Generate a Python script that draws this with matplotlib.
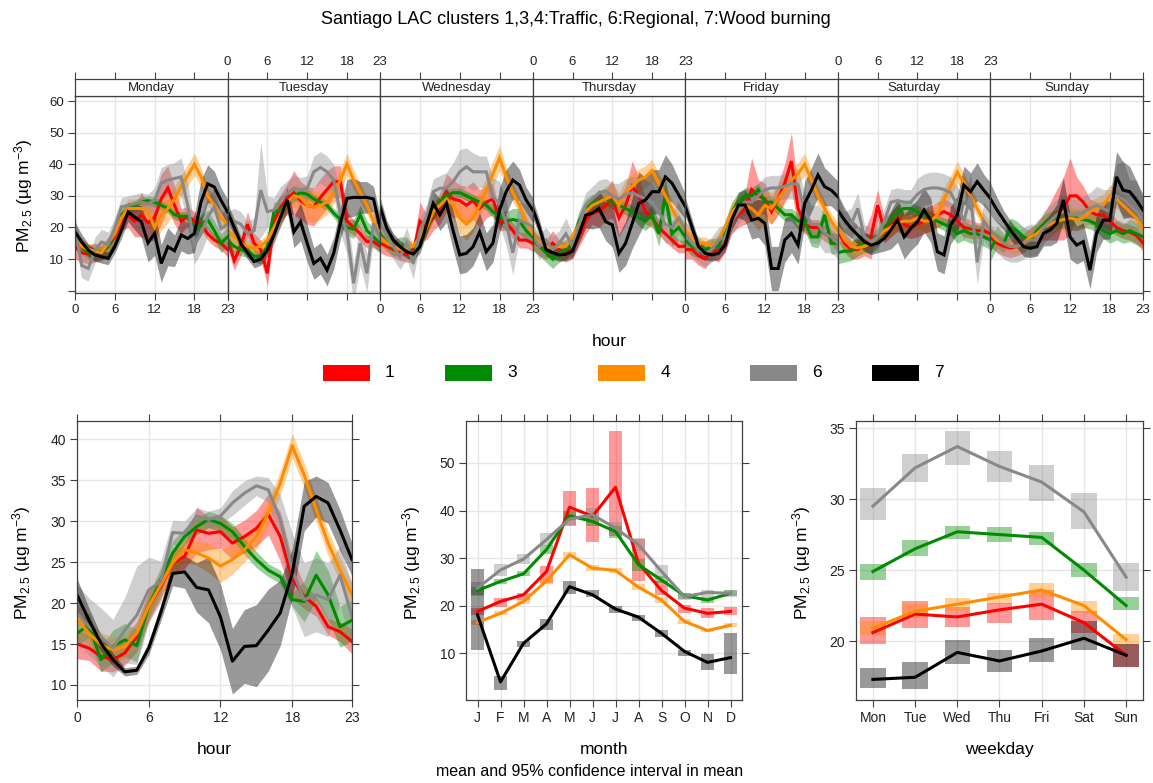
import numpy as np
import matplotlib.pyplot as plt
from matplotlib.patches import Rectangle

plt.rcParams['font.family'] = ['Liberation Sans', 'DejaVu Sans']
plt.rcParams['mathtext.fontset'] = 'custom'
plt.rcParams['mathtext.rm'] = 'Liberation Sans'
plt.rcParams['mathtext.it'] = 'Liberation Sans:italic'

clusters = ['1', '3', '4', '6', '7']
colours = ['#FF0000', '#008B00', '#FF8C00', '#888888', '#000000']
days = ['Monday', 'Tuesday', 'Wednesday', 'Thursday', 'Friday', 'Saturday', 'Sunday']
month_labels = ['J', 'F', 'M', 'A', 'M', 'J', 'J', 'A', 'S', 'O', 'N', 'D']
wday_labels = ['Mon', 'Tue', 'Wed', 'Thu', 'Fri', 'Sat', 'Sun']

# ---- day x hour means (one row of 24 hours per weekday) ----
week_c1 = [
    [14, 12, 11.5, 12, 12, 14, 17, 22, 24, 22, 24, 21.5, 23, 29, 32.5, 27, 22, 23.5, 22, 21, 18, 16, 15, 13],
    [16.5, 9.5, 14, 21, 15, 13, 5.5, 22, 26.5, 29, 31, 28.5, 27, 26.5, 29.5, 32, 34.5, 34.5, 22, 20, 18, 15.5, 15.5, 14],
    [15, 14, 13, 12, 11.5, 12, 22, 20, 23, 26, 31, 29, 28.5, 27, 28.5, 26, 28, 29, 22, 21.5, 19, 16, 16, 15],
    [16, 14, 13, 15, 13, 12, 13, 17, 22, 25, 25, 27, 29, 23, 27, 33, 30, 25, 23, 20, 18, 16, 14, 14],
    [13, 13, 11, 10, 13, 12, 15, 22, 24, 26, 32, 30, 29, 25, 29, 34, 41, 26, 21, 20, 20, 18, 17, 15],
    [19, 15, 13, 13, 15, 17, 27, 19, 21, 23, 21, 20, 21, 22, 23, 24, 25, 24, 22, 20, 19.5, 19, 19, 18],
    [17, 15, 14, 13.5, 14, 15, 17, 18, 20, 22, 24, 26, 30, 30, 28, 25, 24, 24, 22, 20, 19, 18.5, 17.5, 15],
]
week_c3 = [
    [16, 14, 12, 11.5, 12, 14, 18, 24, 25.5, 27, 28, 28.5, 28, 27, 26, 24, 23.5, 23.5, 19, 21, 22.5, 19, 15, 17],
    [16, 14, 13, 12.5, 11, 10.5, 14, 25, 25.5, 28, 30, 31, 30.5, 29, 28, 27, 24.5, 22.5, 20, 19.5, 24, 19, 17, 15],
    [18, 15, 13.5, 14, 14, 11, 17, 20, 24, 28, 30, 31, 31, 30, 29, 28, 27, 25, 23.5, 22, 22.5, 22, 19, 17],
    [16, 14, 12, 10, 12, 13, 15, 22, 26, 28, 28, 29, 28, 27, 26, 25, 23, 22, 24, 18, 30, 18, 20, 17],
    [16, 14, 13, 13, 14, 14, 19, 25, 28, 30, 30, 32, 28, 28, 26, 24, 24, 22, 22, 17, 17, 24, 15, 15],
    [12, 12.5, 12.5, 14, 15, 15, 17, 20, 22, 25, 26, 26, 25, 24, 23, 22, 21, 20, 18, 19, 18, 18, 17, 16],
    [13, 17, 15, 20, 19, 17, 16, 19, 21, 22.5, 23, 22, 23, 23, 22.5, 22, 21, 19, 18, 19, 18, 19, 18, 17],
]
week_c4 = [
    [17, 14, 13, 12.5, 12, 15, 18, 23, 26, 26, 26, 25, 20, 24, 26, 29, 33, 36.5, 40, 36, 30, 27, 23, 21],
    [19, 17, 15, 14, 13.5, 14, 16, 20, 24, 28, 30, 29.5, 27, 26.5, 27, 28, 31, 35, 40, 35, 31, 27, 22, 19],
    [17, 15, 14, 13, 13.5, 14, 17, 20, 25, 27, 29, 27, 23, 21, 23, 27, 32, 37, 42, 36, 31, 27, 22, 18],
    [17, 15, 14, 13.5, 14, 14, 17, 21, 25, 27, 28, 29, 30, 27, 31, 33, 35, 36, 38, 34, 30, 26, 22, 19],
    [19, 17, 15, 15, 14, 16, 20, 25, 27, 27, 26, 24, 27, 26, 29, 32, 35, 37, 40, 35, 30, 26, 22, 19],
    [20, 16, 14, 13.5, 14, 15, 17, 19, 20, 21.5, 22, 22, 23, 22, 22, 24, 29, 33, 37.5, 34, 30, 26, 22, 19],
    [18, 16, 15, 14, 14, 15, 17, 18, 20, 21, 22, 22.5, 23, 22.5, 23, 25, 26, 27, 30, 29, 27, 25, 23, 20],
]
week_c6 = [
    [20, 8, 7, 12.8, 15.4, 14.5, 20, 26.5, 27, 27.5, 28, 27.5, 28.6, 34, 35, 35.5, 36, 27, 14.4, 18, 23.3, 26.5, 19.6, 21],
    [21, 22, 21, 18, 19, 31.8, 25, 25.5, 29, 30.8, 32.4, 31.8, 32.4, 37.6, 39, 37.6, 35, 24.5, 18.6, 2.3, 15, 5.5, 21.3, 16.5],
    [22, 17, 14, 10.7, 15, 8.6, 19, 23.4, 31.3, 32.4, 32.4, 34.5, 37.6, 39.2, 37.6, 37.6, 37.6, 29.7, 27.6, 21.3, 12, 22.3, 21.3, 20.2],
    [17, 14, 16, 13, 15, 18, 14, 21, 27, 29, 31, 31.5, 30, 29, 30.5, 31, 30, 29, 28, 25, 21, 20, 23, 19],
    [18, 15, 13, 11.5, 13, 16, 17, 22, 25, 28, 28, 30, 32, 32.5, 32.5, 33, 34, 33.5, 25, 21, 21, 18, 17, 15],
    [24, 20, 21, 26, 17, 15.5, 17, 22, 28, 28.5, 28, 28, 30.5, 32, 32.5, 32.5, 32, 31, 27, 22, 30, 9, 22, 19],
    [19, 17, 15, 14, 14, 15, 16, 16, 20, 22, 24, 25, 24, 24, 25, 26, 27, 26, 25, 30, 29, 27, 25, 22],
]
week_c7 = [
    [18.6, 15.4, 12.8, 11.3, 10.7, 10.2, 13.9, 19.1, 24.9, 23.3, 21.8, 15.1, 18.1, 8.6, 13.9, 12.6, 17.6, 16.5, 18.1, 28.1, 33.8, 32.8, 28.6, 24.9],
    [25, 20, 15, 12, 9.2, 10, 12.8, 17.6, 23.4, 28.7, 18.6, 21.8, 15, 8.6, 10.2, 6.5, 11.8, 21.3, 29.2, 29.5, 29.5, 29.5, 29, 20],
    [26.6, 19.7, 16, 13.9, 12.3, 11.6, 13.9, 20.8, 27.6, 24, 27.6, 19, 11.3, 11.8, 13.9, 18.6, 12.3, 15, 25.5, 31.3, 35, 33.4, 28.7, 25.5],
    [26, 20, 13, 12, 11.3, 11.5, 12.5, 18, 23.9, 24.5, 26, 21.8, 20.8, 11.8, 15, 21.3, 27.6, 28.7, 31.3, 31.3, 36, 34, 30.3, 26.6],
    [26.6, 20.2, 13.9, 11.8, 11.3, 11.8, 14.4, 22.3, 27.1, 27.1, 22.3, 22.9, 21.3, 7, 7, 16, 18.1, 14.4, 27.6, 31.8, 36.6, 32.9, 31.8, 29.7],
    [25.5, 22.3, 19.7, 17.6, 15.5, 14.4, 15, 16.5, 19.2, 22.3, 17, 19.7, 21.8, 25.5, 22.3, 12.3, 11.3, 20.8, 23.9, 33.4, 31.3, 34.5, 31.8, 29.2],
    [29, 25.5, 22.3, 19.2, 16.5, 13.9, 13.4, 13.9, 18.1, 19.2, 21.3, 28.7, 17, 14.4, 15.5, 6.5, 18.1, 22.3, 22.3, 36, 31.8, 31.3, 28.7, 25.5],
]

# half-width of the 95% interval, same layout
week_ci_c1 = [
    [4, 3, 3, 3, 2.5, 3, 3, 3, 4, 5, 7, 6, 7, 8, 7, 6, 4, 3, 3, 2, 2, 2, 2, 2.5],
    [3, 3, 3, 4, 3, 3, 4, 4, 4, 5, 7, 6, 6, 6, 6, 6, 5, 5, 3, 2.5, 2.5, 2, 2, 2],
    [3, 3, 2.5, 2.5, 2.5, 3, 6, 4, 4, 5, 6, 6, 5, 6, 6, 6, 5, 5, 3, 2.5, 2.5, 2.5, 2.5, 2.5],
    [3, 3, 3, 4, 3, 3, 3, 3, 4, 4, 5, 5, 6, 6, 6, 8, 6, 4, 3, 2.5, 2.5, 2.5, 2, 2],
    [3, 3, 3, 3, 3, 3, 3, 4, 4, 5, 10, 5, 5, 4, 5, 6, 9, 6, 3, 2.5, 2.5, 2.5, 2.5, 2.5],
    [3, 3, 3, 3, 4, 7, 5, 4, 4, 4, 4, 3.5, 4, 4, 4, 4, 4, 4, 3, 3, 3, 2.5, 2.5, 2.5],
    [3, 3, 3, 3, 3, 3, 3, 3, 4, 6, 8, 10, 12, 6, 5, 4, 4, 4, 3, 2.5, 2.5, 2.5, 2.5, 2.5],
]
week_ci_c3 = [
    [3, 2.5, 2, 2, 2, 2.5, 2.5, 2, 2, 1.5, 1.5, 1.5, 1.5, 1.5, 1.5, 1.5, 1.5, 1.5, 2, 3, 3, 3, 3, 3],
    [3, 2.5, 2, 2, 2, 2, 2.5, 3, 2.5, 2, 2, 1.5, 1.5, 1.5, 1.5, 1.5, 1.5, 2, 2.5, 3, 3, 3, 3, 3],
    [3, 2.5, 2.5, 3, 3, 3, 3, 2.5, 2, 2, 2, 1.5, 1.5, 1.5, 1.5, 1.5, 1.5, 2, 2.5, 3, 3.5, 4, 3, 3],
    [3, 3, 3, 3, 3, 3, 3, 3, 3, 2.5, 2.5, 2, 2, 2, 2, 2, 2.5, 3, 3, 4, 6, 4, 4, 3.5],
    [3, 3, 2.5, 2.5, 2.5, 2.5, 3, 3, 3, 2.5, 2.5, 2, 2, 2, 2, 2, 2, 2.5, 3, 3, 3.5, 4, 3.5, 3],
    [3.5, 3.5, 3, 3, 3, 3, 3, 3, 2.5, 2.5, 2, 2, 2, 2, 2, 2, 2, 2.5, 3, 3, 3, 3, 3, 3],
    [3.5, 3.5, 3, 3, 3, 3, 3, 3, 3, 2.5, 2.5, 2.5, 2.5, 2.5, 2.5, 2.5, 2.5, 2.5, 3, 3, 3, 3.5, 3.5, 3.5],
]
week_ci_c4 = [
    [3, 2.5, 2, 2, 2, 2, 2, 2.5, 3, 3, 3.5, 4, 5, 5, 4.5, 4, 3.5, 3.5, 3.5, 3, 3, 2.5, 2.5, 2.5],
    [3, 2.5, 2, 2, 2, 2, 2, 2.5, 3, 3, 3.5, 4, 5, 5, 4.5, 4, 3.5, 3.5, 3.5, 3, 3, 2.5, 2.5, 2.5],
    [3, 2.5, 2, 2, 2, 2, 2, 2.5, 3, 3, 3.5, 4, 5, 5, 4.5, 4, 4, 4, 4, 3, 3, 2.5, 2.5, 2.5],
    [3, 2.5, 2, 2, 2, 2, 2, 2.5, 3, 3, 3.5, 4, 4, 4, 4, 4, 3.5, 3.5, 3.5, 3, 3, 2.5, 2.5, 2.5],
    [3, 2.5, 2, 2, 2, 2, 2, 2.5, 3, 3, 4, 5, 5, 5, 4.5, 4, 3.5, 3.5, 3.5, 3, 3, 2.5, 2.5, 2.5],
    [3, 2.5, 2, 2, 2, 2, 2, 2.5, 3, 3, 3.5, 3.5, 3.5, 3.5, 3.5, 3.5, 3.5, 3.5, 3.5, 3, 3, 2.5, 2.5, 2.5],
    [3, 2.5, 2, 2, 2, 2, 2, 2.5, 3, 3, 3.5, 3.5, 3.5, 3.5, 3.5, 3.5, 3.5, 3.5, 3.5, 3, 3, 2.5, 2.5, 2.5],
]
week_ci_c6 = [
    [4, 4, 4, 4, 4, 4, 3, 3, 3, 3, 3, 3, 4, 5, 5, 5, 6, 7, 6, 6, 6, 6, 5, 5],
    [4, 4, 4, 4, 4, 15, 5, 4, 4, 4, 4, 4, 4, 5, 5, 5, 5, 6, 7, 6, 7, 6, 5, 5],
    [4, 4, 4, 4, 5, 5, 4, 4, 4, 4, 5, 6, 7, 6, 6, 5, 5, 6, 7, 7, 7, 6, 6, 5],
    [4, 4, 4, 4, 4, 5, 4, 4, 4, 4, 4, 4, 4, 5, 5, 5, 6, 6, 6, 6, 6, 5, 5, 4],
    [4, 4, 4, 4, 4, 4, 4, 4, 4, 4, 4, 4, 4, 4, 4, 4, 5, 5, 6, 6, 6, 6, 5, 5],
    [6, 5, 5, 5, 4, 4, 4, 4, 4, 4, 4, 4, 5, 5, 5, 5, 5, 5, 6, 6, 7, 7, 6, 6],
    [5, 5, 5, 5, 5, 5, 5, 5, 5, 5, 5, 5, 5, 5, 5, 5, 6, 6, 7, 10, 12, 8, 10, 7],
]
week_ci_c7 = [
    [3, 2.5, 2, 2, 2, 2, 2, 2.5, 3, 4, 5, 6, 7, 6, 6, 5, 5, 5, 6, 7, 6, 5, 4, 4],
    [3, 2.5, 2, 2, 2, 2, 2, 2.5, 3, 4, 5, 6, 6, 5, 5, 5, 5, 5, 6, 6, 5, 5, 4, 4],
    [3, 2.5, 2, 2, 2, 2, 2, 3, 4, 5, 6, 6, 6, 6, 6, 6, 6, 6, 7, 7, 6, 5, 4, 4],
    [3, 2.5, 2, 2, 2, 2, 2, 3, 4, 5, 6, 6, 7, 6, 7, 8, 10, 7, 7, 7, 7, 6, 5, 4],
    [3, 2.5, 2, 2, 2, 2, 2, 3, 4, 5, 6, 6, 7, 7, 7, 7, 6, 6, 7, 7, 7, 6, 5, 5],
    [5, 4, 3, 3, 3, 3, 3, 4, 6, 7, 7, 7, 7, 7, 7, 6, 6, 6, 6, 6, 6, 6, 5, 5],
    [5, 4, 3, 3, 3, 3, 3, 3, 4, 5, 6, 7, 7, 6, 6, 6, 6, 6, 6, 8, 9, 8, 6, 5],
]

# ---- hour of day means and interval half-widths ----
hour_c1 = [15.0, 14.5, 13.5, 13.1, 13.9, 15.9, 19.6, 22.0, 24.9, 25.7, 28.9, 28.5, 28.7, 27.3, 28.1, 29.1, 30.8, 28.1, 23.0, 20.8, 19.6, 17.1, 16.5, 15.3]
hour_c3 = [16.3, 17.3, 13.1, 14.7, 15.5, 14.8, 19.6, 22.8, 26.1, 28.1, 29.3, 30.2, 29.7, 28.7, 26.9, 25.3, 24.0, 23.2, 20.4, 20.2, 23.4, 21.0, 17.1, 17.9]
hour_c4 = [18.1, 16.3, 14.9, 14.3, 14.7, 16.3, 19.6, 22.2, 24.9, 26.5, 26.1, 25.5, 24.5, 25.3, 26.5, 28.1, 31.0, 34.6, 39.2, 35.6, 31.4, 27.3, 24.0, 21.0]
hour_c6 = [18.8, 17.1, 15.9, 14.5, 16.7, 18.5, 21.6, 22.6, 28.6, 28.5, 30.6, 30.2, 30.6, 32.2, 33.4, 34.3, 33.8, 30.2, 24.0, 20.4, 21.0, 20.4, 23.4, 18.3]
hour_c7 = [21.0, 17.9, 15.1, 13.1, 11.6, 11.8, 14.5, 18.8, 23.6, 23.8, 21.9, 21.6, 18.3, 12.9, 14.7, 14.8, 16.7, 18.8, 23.6, 31.8, 33.0, 32.2, 28.9, 25.3]
hour_ci_c1 = [1.8, 1.5, 1.8, 1.5, 1.5, 1.8, 1.8, 1.5, 1.5, 1.5, 2.8, 2.0, 2.0, 2.0, 2.0, 2.2, 2.5, 3.0, 2.5, 1.5, 1.2, 1.0, 1.2, 1.5]
hour_ci_c3 = [1.5, 1.5, 1.5, 2.0, 2.0, 2.0, 1.5, 1.5, 1.5, 1.0, 1.0, 1.0, 1.0, 1.0, 1.0, 1.0, 0.8, 0.8, 0.8, 2.5, 3.0, 3.0, 2.5, 2.5]
hour_ci_c4 = [2.0, 1.5, 1.5, 1.5, 1.5, 1.5, 1.5, 1.5, 1.5, 1.5, 1.5, 1.8, 2.0, 1.8, 1.5, 1.5, 1.5, 1.5, 1.5, 1.5, 1.5, 1.5, 1.5, 1.5]
hour_ci_c6 = [3.5, 3.5, 3.5, 3.5, 4.0, 6.0, 4.0, 2.5, 1.5, 1.5, 1.0, 1.0, 1.0, 1.5, 1.5, 1.2, 1.5, 3.0, 4.5, 4.5, 4.5, 4.5, 3.5, 4.0]
hour_ci_c7 = [2.0, 1.5, 1.0, 0.8, 0.5, 0.5, 0.8, 1.0, 1.5, 2.0, 3.0, 4.0, 4.0, 4.0, 4.5, 5.0, 5.0, 4.0, 3.0, 3.0, 2.5, 2.5, 2.5, 2.0]

# ---- monthly means with lower / upper interval ----
month_c1 = [18.8, 20.9, 22.3, 27.2, 40.7, 38.8, 44.9, 28.9, 23.2, 19.5, 18.4, 18.8]
month_lo_c1 = [18.0, 19.8, 21.2, 24.7, 36.7, 33.3, 34.6, 25.2, 22.3, 18.4, 17.4, 18.1]
month_hi_c1 = [19.5, 21.6, 22.6, 28.4, 44.2, 44.7, 56.7, 34.0, 25.1, 20.2, 19.5, 19.8]
month_c3 = [23.2, 25.1, 26.7, 31.8, 38.9, 37.7, 35.6, 28.6, 25.4, 22.1, 21.2, 22.6]
month_lo_c3 = [22.3, 24.5, 26.2, 30.8, 38.0, 36.8, 34.3, 27.2, 24.7, 21.5, 20.6, 22.0]
month_hi_c3 = [24.0, 25.7, 27.3, 32.8, 39.8, 38.6, 36.8, 29.8, 26.2, 22.6, 21.8, 23.2]
month_c4 = [16.5, 18.4, 20.9, 25.2, 30.7, 27.9, 27.4, 23.9, 21.2, 16.7, 14.8, 15.9]
month_lo_c4 = [16.0, 18.0, 20.4, 24.6, 30.0, 27.2, 26.8, 23.3, 20.6, 16.2, 14.4, 15.5]
month_hi_c4 = [17.0, 18.8, 21.4, 25.8, 31.3, 28.6, 28.0, 24.5, 21.8, 17.2, 15.2, 16.3]
month_c6 = [23.7, 27.5, 29.8, 33.9, 38.2, 39.1, 36.3, 32.8, 27.2, 21.9, 22.8, 22.6]
month_lo_c6 = [22.0, 26.2, 28.7, 32.6, 37.0, 37.7, 35.2, 31.5, 25.8, 21.2, 21.9, 21.8]
month_hi_c6 = [25.0, 28.8, 30.9, 35.2, 39.5, 40.6, 37.5, 34.2, 28.5, 22.6, 23.3, 23.2]
month_c7 = [18.1, 4.0, 12.1, 16.2, 24.0, 22.3, 19.3, 17.6, 14.2, 10.4, 8.1, 9.1]
month_lo_c7 = [10.7, 2.4, 11.4, 14.8, 22.5, 21.8, 18.4, 16.7, 13.5, 9.4, 6.6, 5.6]
month_hi_c7 = [27.7, 5.2, 12.6, 17.2, 25.1, 23.3, 20.0, 18.1, 14.9, 10.8, 9.9, 14.2]

# ---- weekday means with lower / upper interval ----
wday_c1 = [20.6, 21.9, 21.7, 22.2, 22.6, 21.3, 19.0]
wday_lo_c1 = [19.8, 20.9, 21.0, 21.3, 21.5, 20.6, 18.2]
wday_hi_c1 = [21.7, 22.8, 22.4, 22.7, 23.6, 22.1, 19.8]
wday_c3 = [24.9, 26.5, 27.7, 27.5, 27.3, 25.0, 22.5]
wday_lo_c3 = [24.3, 26.0, 27.2, 27.0, 26.8, 24.5, 22.2]
wday_hi_c3 = [25.4, 27.1, 28.1, 28.0, 27.7, 25.5, 23.1]
wday_c4 = [20.9, 22.1, 22.6, 23.1, 23.6, 22.5, 20.1]
wday_lo_c4 = [20.4, 21.6, 22.1, 22.6, 23.1, 22.0, 19.7]
wday_hi_c4 = [21.4, 22.6, 23.0, 23.4, 24.1, 22.8, 20.5]
wday_c6 = [29.5, 32.2, 33.7, 32.3, 31.2, 29.1, 24.5]
wday_lo_c6 = [28.5, 31.2, 32.4, 31.2, 29.9, 27.9, 23.5]
wday_hi_c6 = [30.8, 33.2, 34.8, 33.4, 32.4, 30.4, 25.5]
wday_c7 = [17.3, 17.45, 19.2, 18.6, 19.3, 20.2, 19.0]
wday_lo_c7 = [16.7, 16.6, 18.4, 17.8, 18.5, 19.4, 18.2]
wday_hi_c7 = [18.1, 18.5, 20.1, 19.4, 20.2, 21.4, 19.8]

week = [week_c1, week_c3, week_c4, week_c6, week_c7]
week_ci = [week_ci_c1, week_ci_c3, week_ci_c4, week_ci_c6, week_ci_c7]
hour = [hour_c1, hour_c3, hour_c4, hour_c6, hour_c7]
hour_ci = [hour_ci_c1, hour_ci_c3, hour_ci_c4, hour_ci_c6, hour_ci_c7]
month = [month_c1, month_c3, month_c4, month_c6, month_c7]
month_lo = [month_lo_c1, month_lo_c3, month_lo_c4, month_lo_c6, month_lo_c7]
month_hi = [month_hi_c1, month_hi_c3, month_hi_c4, month_hi_c6, month_hi_c7]
wday = [wday_c1, wday_c3, wday_c4, wday_c6, wday_c7]
wday_lo = [wday_lo_c1, wday_lo_c3, wday_lo_c4, wday_lo_c6, wday_lo_c7]
wday_hi = [wday_hi_c1, wday_hi_c3, wday_hi_c4, wday_hi_c6, wday_hi_c7]

W, H = 1153, 783
fig = plt.figure(figsize=(W / 100, H / 100), dpi=100)

def box(x0, y0, x1, y1):
    # pixel box (top-left origin) -> figure fraction rect
    return [x0 / W, 1 - y1 / H, (x1 - x0) / W, (y1 - y0) / H]

FRAME = '#404040'
GRID = '#E6E6E6'
ylab = 'PM$_{2.5}$ (µg m$^{-3}$)'

def style(ax, size=10):
    for s in ax.spines.values():
        s.set_color(FRAME)
        s.set_linewidth(0.9)
    ax.tick_params(direction='out', length=5, width=0.8, color=FRAME,
                   labelcolor='#222222', labelsize=size, pad=3)
    ax.grid(color=GRID, lw=1)
    ax.set_axisbelow(True)

hrs = np.arange(24)
hticks = [0, 6, 12, 18, 23]

# ---- top: one panel per weekday ----
pw = (1143 - 75) / 7
for d in range(7):
    x0 = 75 + d * pw
    ax = fig.add_axes(box(x0, 96, x0 + pw, 293))
    strip = fig.add_axes(box(x0, 79, x0 + pw, 96))
    style(ax, 9.5)
    for i in range(5):
        m = np.array(week[i][d])
        hw = np.array(week_ci[i][d])
        ax.fill_between(hrs, m - hw, m + hw, color=colours[i], alpha=0.4, lw=0)
        ax.plot(hrs, m, color=colours[i], lw=2.2, solid_joinstyle='miter')
    ax.set_xlim(0, 23)
    ax.set_ylim(-0.76, 61.6)
    ax.set_xticks(hticks)
    ax.set_yticks(range(0, 61, 10))
    if d % 2 == 1:
        ax.set_xticklabels([])
    if d == 0:
        ax.set_yticklabels([''] + [str(v) for v in range(10, 61, 10)])
    elif d == 6:
        ax.tick_params(left=False, labelleft=False, right=True)
    else:
        ax.tick_params(left=False, labelleft=False)

    strip.set_xlim(0, 23)
    strip.set_yticks([])
    strip.set_xticks(hticks)
    strip.xaxis.tick_top()
    for s in strip.spines.values():
        s.set_color(FRAME)
        s.set_linewidth(0.9)
    strip.tick_params(direction='out', length=5, width=0.8, color=FRAME,
                      labelcolor='#222222', labelsize=9.5, pad=3)
    if d % 2 == 0:
        strip.set_xticklabels([])
    strip.text(0.5, 0.45, days[d], transform=strip.transAxes, ha='center',
               va='center', fontsize=9.5, color='#222222')

fig.text(609 / W, 1 - 341 / H, 'hour', ha='center', va='center', fontsize=12.5)
fig.text(24 / W, 1 - 196 / H, ylab, ha='center', va='center', rotation=90, fontsize=12.5)
fig.text(576 / W, 1 - 20 / H, 'Santiago LAC clusters 1,3,4:Traffic, 6:Regional, 7:Wood burning',
         ha='center', va='center', fontsize=13)

# ---- legend ----
leg_x = [323, 445, 598, 750, 872]
for i in range(5):
    fig.patches.append(Rectangle((leg_x[i] / W, 1 - 381 / H), 47 / W, 16 / H,
                                 transform=fig.transFigure, color=colours[i], lw=0))
    fig.text((leg_x[i] + 67) / W, 1 - 373 / H, clusters[i], ha='center', va='center', fontsize=12.5)

# ---- bottom left: hour of day ----
ax = fig.add_axes(box(77, 421, 352, 700))
style(ax)
for i in range(5):
    m = np.array(hour[i])
    hw = np.array(hour_ci[i])
    ax.fill_between(hrs, m - hw, m + hw, color=colours[i], alpha=0.4, lw=0)
    ax.plot(hrs, m, color=colours[i], lw=2.2)
ax.set_xlim(0, 23)
ax.set_ylim(8.17, 42.2)
ax.set_xticks(hticks)
ax.set_yticks(range(10, 41, 5))
ax.tick_params(top=True, right=True)
ax.set_xlabel('hour', fontsize=12.5, labelpad=12)
fig.text(22 / W, 1 - 563 / H, ylab, ha='center', va='center', rotation=90, fontsize=12.5)

# ---- bottom middle: month ----
ax = fig.add_axes(box(466, 421, 742, 700))
style(ax)
mx = np.arange(1, 13)
for i in range(5):
    for k in range(12):
        ax.add_patch(Rectangle((mx[k] - 0.3, month_lo[i][k]), 0.6,
                               month_hi[i][k] - month_lo[i][k],
                               color=colours[i], alpha=0.4, lw=0))
    ax.plot(mx, month[i], color=colours[i], lw=2.2)
ax.set_xlim(0.5, 12.5)
ax.set_ylim(0.2, 58.8)
ax.set_xticks(mx)
ax.set_xticklabels(month_labels)
ax.set_yticks(range(10, 51, 10))
ax.tick_params(top=True, right=True)
ax.set_xlabel('month', fontsize=12.5, labelpad=12)
fig.text(412 / W, 1 - 563 / H, ylab, ha='center', va='center', rotation=90, fontsize=12.5)
fig.text(590 / W, 1 - 772 / H, 'mean and 95% confidence interval in mean',
         ha='center', va='center', fontsize=11.5)

# ---- bottom right: weekday ----
ax = fig.add_axes(box(856, 421, 1143, 700))
style(ax)
wx = np.arange(1, 8)
for i in range(5):
    for k in range(7):
        ax.add_patch(Rectangle((wx[k] - 0.3, wday_lo[i][k]), 0.6,
                               wday_hi[i][k] - wday_lo[i][k],
                               color=colours[i], alpha=0.4, lw=0))
    ax.plot(wx, wday[i], color=colours[i], lw=2.2)
ax.set_xlim(0.6, 7.4)
ax.set_ylim(15.85, 35.5)
ax.set_xticks(wx)
ax.set_xticklabels(wday_labels)
ax.set_yticks(range(20, 36, 5))
ax.tick_params(top=True, right=True)
ax.set_xlabel('weekday', fontsize=12.5, labelpad=12)
fig.text(802 / W, 1 - 563 / H, ylab, ha='center', va='center', rotation=90, fontsize=12.5)

fig.savefig('out.png', dpi=100)
